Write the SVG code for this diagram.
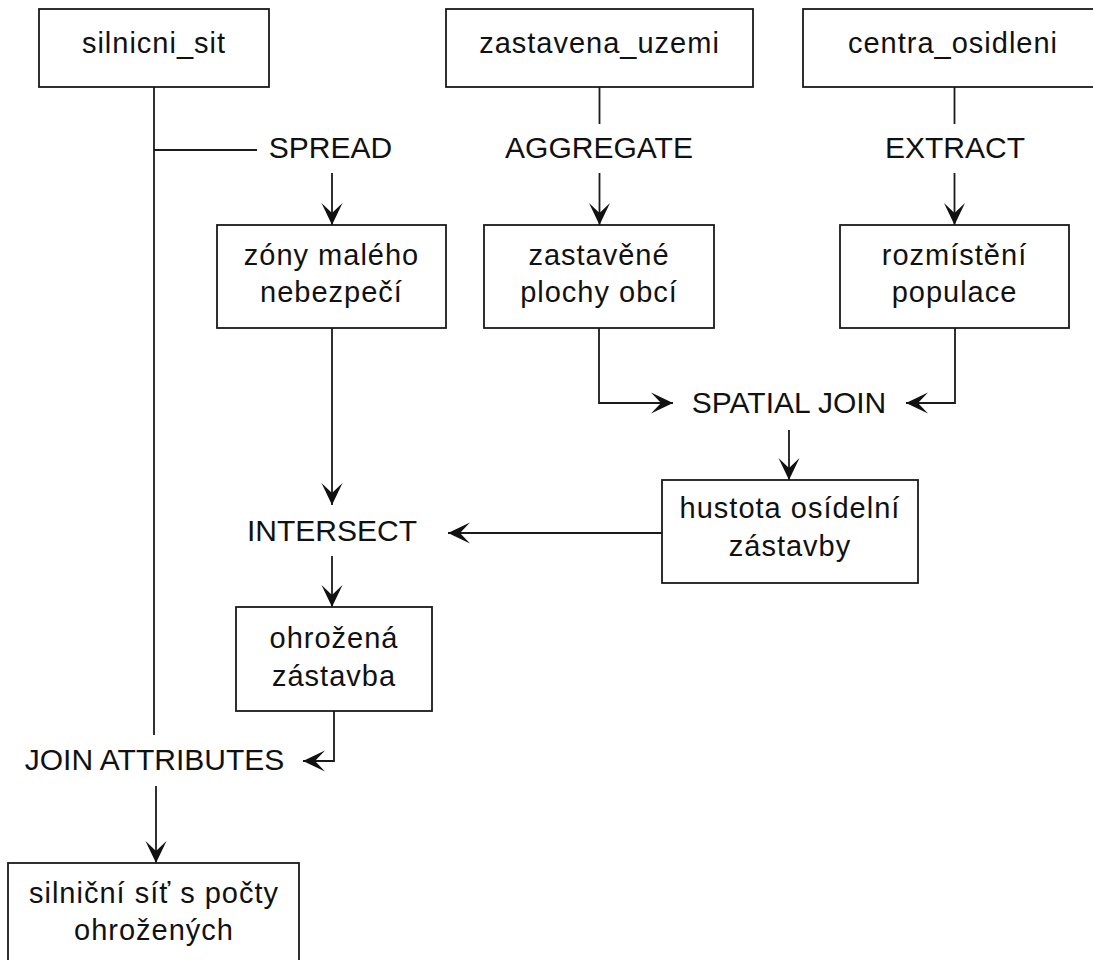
<svg xmlns="http://www.w3.org/2000/svg" width="1093" height="960" viewBox="0 0 1093 960">
<style>
.box{fill:#fff;stroke:#1a1a1a;stroke-width:1.8}
.t{font-family:"Liberation Sans",Arial,sans-serif;font-size:29px;letter-spacing:1px;fill:#111;text-anchor:middle}
.op{font-family:"Liberation Sans",Arial,sans-serif;font-size:30px;fill:#111;text-anchor:middle}
.c{fill:none;stroke:#1a1a1a;stroke-width:1.8}
.a{marker-end:url(#ah)}
</style>
<defs>
<marker id="ah" viewBox="-23 -11 24 22" markerWidth="24" markerHeight="22" refX="0" refY="0" orient="auto" markerUnits="userSpaceOnUse">
<path d="M0,0 L-22,-10.5 L-12,0 L-22,10.5 Z" fill="#111"/>
</marker>
</defs>
<rect width="1093" height="960" fill="#fff"/>
<g id="connectors">
<path class="c" d="M154,87 V735"/>
<path class="c" d="M154,150 H257"/>
<path class="c a" d="M332,173 V225"/>
<path class="c" d="M599.5,87 V124"/>
<path class="c a" d="M599.5,173 V225"/>
<path class="c" d="M954.5,87 V124"/>
<path class="c a" d="M954.5,173 V225"/>
<path class="c a" d="M599,328 V403 H673"/>
<path class="c a" d="M955,328 V403 H906"/>
<path class="c a" d="M789,430 V480"/>
<path class="c a" d="M332,328 V505"/>
<path class="c a" d="M662,533 H448"/>
<path class="c a" d="M332,556 V607"/>
<path class="c a" d="M334,711 V761 H303"/>
<path class="c a" d="M156,786 V863"/>
</g>
<g id="labels">
<text class="op" x="330.5" y="158">SPREAD</text>
<text class="op" x="599" y="158">AGGREGATE</text>
<text class="op" x="955" y="158">EXTRACT</text>
<text class="op" x="789" y="413">SPATIAL JOIN</text>
<text class="op" x="332" y="541">INTERSECT</text>
<text class="op" x="154.5" y="770">JOIN ATTRIBUTES</text>
</g>
<g id="silnicni_sit">
<rect class="box" x="39" y="9" width="230" height="78"/>
<text class="t" x="154" y="53">silnicni_sit</text>
</g>
<g id="zastavena_uzemi">
<rect class="box" x="446" y="9" width="307" height="78"/>
<text class="t" x="599.5" y="53">zastavena_uzemi</text>
</g>
<g id="centra_osidleni">
<rect class="box" x="803" y="9" width="302" height="78"/>
<text class="t" x="953" y="53">centra_osidleni</text>
</g>
<g id="zony">
<rect class="box" x="217" y="225" width="229" height="103"/>
<text class="t" x="331.5" y="265">zóny malého</text>
<text class="t" x="331.5" y="302">nebezpečí</text>
</g>
<g id="zastavene">
<rect class="box" x="484" y="225" width="230" height="103"/>
<text class="t" x="599" y="265">zastavěné</text>
<text class="t" x="599" y="302">plochy obcí</text>
</g>
<g id="rozmisteni">
<rect class="box" x="840" y="225" width="229" height="103"/>
<text class="t" x="954.5" y="265">rozmístění</text>
<text class="t" x="954.5" y="302">populace</text>
</g>
<g id="hustota">
<rect class="box" x="662" y="480" width="256" height="103"/>
<text class="t" x="790" y="518">hustota osídelní</text>
<text class="t" x="790" y="556">zástavby</text>
</g>
<g id="ohrozena">
<rect class="box" x="236" y="607" width="196" height="104"/>
<text class="t" x="334" y="648">ohrožená</text>
<text class="t" x="334" y="686">zástavba</text>
</g>
<g id="vysledek">
<rect class="box" x="8" y="863" width="291" height="120"/>
<text class="t" x="154" y="903">silniční síť s počty</text>
<text class="t" x="154" y="940">ohrožených</text>
</g>
</svg>
